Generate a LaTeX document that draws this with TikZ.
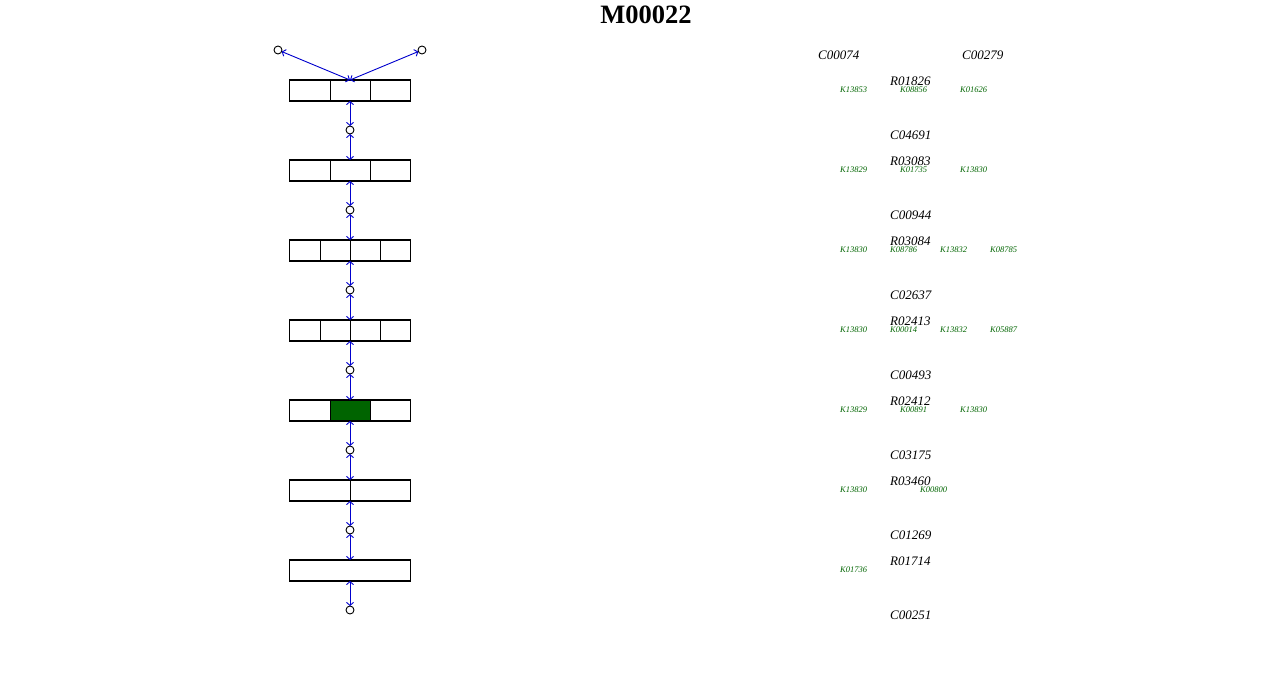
\documentclass[tikz,border=0pt]{standalone}
\usepackage{fontspec}
\setmainfont{Liberation Serif}
\usetikzlibrary{arrows.meta}
\definecolor{kgreen}{RGB}{0,100,0}
\definecolor{kblue}{RGB}{0,0,205}
\begin{document}
\begin{tikzpicture}[x=1pt,y=-1pt,
  modbox/.style={draw=black,line width=1.8pt,minimum width=121pt,minimum height=21pt,inner sep=0pt,outer sep=0pt,anchor=center},
  cpd/.style={circle,draw=black,line width=0.9pt,minimum size=8pt,inner sep=0pt,outer sep=0pt,fill=white},
  conn/.style={draw=kblue,line width=0.9pt,{Straight Barb[length=3pt,width=7pt]}-{Straight Barb[length=3pt,width=7pt]}},
  cdiv/.style={draw=black,line width=0.7pt},
  clab/.style={font=\itshape\fontsize{13}{13}\selectfont,anchor=west,inner sep=0pt},
  rlab/.style={font=\itshape\fontsize{13}{13}\selectfont,anchor=west,inner sep=0pt},
  klab/.style={font=\itshape\fontsize{8.5}{8.5}\selectfont,text=kgreen,anchor=west,inner sep=0pt}]
\useasboundingbox (0,0) rectangle (1280,680);
\node[font=\bfseries\fontsize{26.5}{26.5}\selectfont,anchor=center] (title) at (646,15) {M00022};
% green cell
\fill[kgreen] (330,400) rectangle (370,421);
% boxes
\foreach \i in {1,...,7}{
  \node[modbox] (b\i) at (350,{80*\i+10.5}) {};
}
% dividers
\foreach \i/\xs in {1/{330,370},2/{330,370},3/{320,350,380},4/{320,350,380},5/{330,370},6/{350}}{
  \foreach \xx in \xs {\draw[cdiv] (\xx,{80*\i}) -- (\xx,{80*\i+21});}
}
% compounds
\node[cpd] (c0a) at (278,50) {};
\node[cpd] (c0b) at (422,50) {};
\foreach \i in {1,...,7}{
  \node[cpd] (c\i) at (350,{50+80*\i}) {};
}
% connectors
\draw[conn] (c0a) -- (b1.north);
\draw[conn] (c0b) -- (b1.north);
\foreach \i [evaluate=\i as \j using int(\i+1)] in {1,...,6}{
  \draw[conn] (b\i.south) -- (c\i);
  \draw[conn] (c\i) -- (b\j.north);
}
\draw[conn] (b7.south) -- (c7);
% right labels
\node[clab] (l00074) at (818,55.5) {C00074};
\node[clab] (l00279) at (962,55.5) {C00279};
\node[rlab] (r1) at (890,81.5) {R01826};
\node[klab] (k11) at (840,90) {K13853};
\node[klab] (k12) at (900,90) {K08856};
\node[klab] (k13) at (960,90) {K01626};
\node[clab] (l04691) at (890,135.5) {C04691};
\node[rlab] (r2) at (890,161.5) {R03083};
\node[klab] (k21) at (840,170) {K13829};
\node[klab] (k22) at (900,170) {K01735};
\node[klab] (k23) at (960,170) {K13830};
\node[clab] (l00944) at (890,215.5) {C00944};
\node[rlab] (r3) at (890,241.5) {R03084};
\node[klab] (k31) at (840,250) {K13830};
\node[klab] (k32) at (890,250) {K08786};
\node[klab] (k33) at (940,250) {K13832};
\node[klab] (k34) at (990,250) {K08785};
\node[clab] (l02637) at (890,295.5) {C02637};
\node[rlab] (r4) at (890,321.5) {R02413};
\node[klab] (k41) at (840,330) {K13830};
\node[klab] (k42) at (890,330) {K00014};
\node[klab] (k43) at (940,330) {K13832};
\node[klab] (k44) at (990,330) {K05887};
\node[clab] (l00493) at (890,375.5) {C00493};
\node[rlab] (r5) at (890,401.5) {R02412};
\node[klab] (k51) at (840,410) {K13829};
\node[klab] (k52) at (900,410) {K00891};
\node[klab] (k53) at (960,410) {K13830};
\node[clab] (l03175) at (890,455.5) {C03175};
\node[rlab] (r6) at (890,481.5) {R03460};
\node[klab] (k61) at (840,490) {K13830};
\node[klab] (k62) at (920,490) {K00800};
\node[clab] (l01269) at (890,535.5) {C01269};
\node[rlab] (r7) at (890,561.5) {R01714};
\node[klab] (k71) at (840,570) {K01736};
\node[clab] (l00251) at (890,615.5) {C00251};
\end{tikzpicture}
\end{document}
